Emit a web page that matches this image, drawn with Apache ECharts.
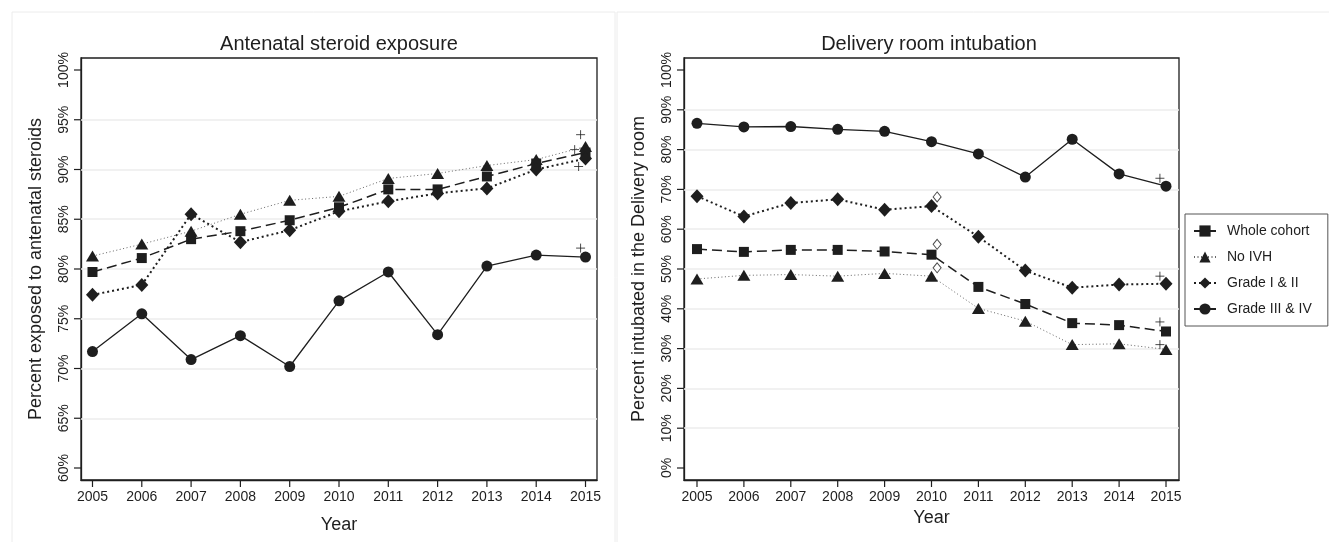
<!DOCTYPE html>
<html>
<head>
<meta charset="utf-8">
<script src="https://cdn.jsdelivr.net/npm/echarts@6/dist/echarts.min.js"></script>
<style>
html, body { margin: 0; padding: 0; background: #fff; }
#chart { width: 1329px; height: 542px; }
</style>
</head>
<body>
<div id="chart"></div>
<script>
const YEARS = [2005, 2006, 2007, 2008, 2009, 2010, 2011, 2012, 2013, 2014, 2015];

// Antenatal steroid exposure (%)
const ANS_WHOLE = [79.7, 81.1, 83.0, 83.8, 84.9, 86.2, 88.0, 88.0, 89.3, 90.6, 91.7];
const ANS_NOIVH = [81.3, 82.5, 83.8, 85.5, 86.9, 87.3, 89.1, 89.6, 90.4, 91.0, 92.3];
const ANS_G12 = [77.4, 78.4, 85.5, 82.7, 83.9, 85.8, 86.8, 87.6, 88.1, 90.0, 91.1];
const ANS_G34 = [71.7, 75.5, 70.9, 73.3, 70.2, 76.8, 79.7, 73.4, 80.3, 81.4, 81.2];
const ANS_PLUS = [[2014.9, 93.5], [2014.78, 92.0], [2014.86, 90.3], [2014.9, 82.1]];
const ANS_TICKS = [60, 65, 70, 75, 80, 85, 90, 95, 100];

// Delivery room intubation (%)
const DRI_WHOLE = [55.0, 54.3, 54.8, 54.8, 54.4, 53.6, 45.5, 41.2, 36.4, 35.9, 34.3];
const DRI_NOIVH = [47.5, 48.4, 48.6, 48.2, 48.9, 48.2, 40.1, 36.9, 31.0, 31.2, 29.8];
const DRI_G12 = [68.3, 63.2, 66.6, 67.5, 64.9, 65.8, 58.1, 49.6, 45.3, 46.1, 46.3];
const DRI_G34 = [86.6, 85.7, 85.8, 85.1, 84.6, 82.0, 78.9, 73.1, 82.6, 73.9, 70.8];
const DRI_PLUS = [[2014.87, 72.8], [2014.87, 48.2], [2014.87, 36.7], [2014.87, 31.0]];
const DRI_OPEN = [[2010.12, 68.1], [2010.12, 56.2], [2010.12, 50.3]];
const DRI_TICKS = [0, 10, 20, 30, 40, 50, 60, 70, 80, 90, 100];

// axis ranges (Stata-like padding around the ticks)
const ANS_X = [2004.767, 2015.233];
const ANS_Y = [58.794, 101.206];
const DRI_X = [2004.723, 2015.277];
const DRI_Y = [-3.015, 103.015];

const FONT = 'Liberation Sans, Arial, sans-serif';
const INK = '#1e1e1e';

const pairs = (vals) => vals.map((v, i) => [YEARS[i], v]);

const STYLES = {
    'Whole cohort': { symbol: 'rect', size: 10, line: { type: [10, 5], width: 1.5, color: INK } },
    'No IVH': { symbol: 'triangle', size: [13, 11], line: { type: [1, 2.5], width: 1, color: '#666' } },
    'Grade I & II': { symbol: 'diamond', size: [13, 14], line: { type: [2, 3], width: 2, color: INK } },
    'Grade III & IV': { symbol: 'circle', size: 11, line: { type: 'solid', width: 1.3, color: INK } }
};

const lineSeries = (name, vals, idx, ticks) => {
    const s = STYLES[name];
    const out = {
        name: name,
        type: 'line',
        xAxisIndex: idx,
        yAxisIndex: idx,
        data: pairs(vals),
        symbol: s.symbol,
        symbolSize: s.size,
        lineStyle: s.line,
        itemStyle: { color: INK },
        animation: false
    };
    if (ticks) {
        out.markLine = {
            silent: true,
            z: 1,
            symbol: ['none', 'none'],
            label: { show: false },
            lineStyle: { color: '#ededed', width: 1.5, type: 'solid' },
            data: ticks.slice(1, -1).map(v => ({ yAxis: v })),
            animation: false
        };
    }
    return out;
};

const plusSeries = (data, idx) => ({
    type: 'scatter',
    xAxisIndex: idx,
    yAxisIndex: idx,
    data: data,
    symbol: 'path://M0,5L10,5M5,0L5,10',
    symbolSize: 9,
    itemStyle: { color: 'none', borderColor: INK, borderWidth: 1 },
    animation: false
});

// outward tick marks, placed through the axes' own scales
const tickSeries = (idx, xr, yr, xTicks, yTicks) => ([
    {
        type: 'custom',
        xAxisIndex: idx,
        yAxisIndex: idx,
        silent: true,
        clip: false,
        z: 10,
        data: xTicks.map(v => [v, yr[0]]),
        renderItem: (params, api) => {
            const p = api.coord([api.value(0), api.value(1)]);
            return { type: 'line', shape: { x1: p[0], y1: p[1], x2: p[0], y2: p[1] + 7 }, style: { stroke: INK, lineWidth: 1.2 } };
        },
        animation: false
    },
    {
        type: 'custom',
        xAxisIndex: idx,
        yAxisIndex: idx,
        silent: true,
        clip: false,
        z: 10,
        data: yTicks.map(v => [xr[0], v]),
        renderItem: (params, api) => {
            const p = api.coord([api.value(0), api.value(1)]);
            return { type: 'line', shape: { x1: p[0] - 7, y1: p[1], x2: p[0], y2: p[1] }, style: { stroke: INK, lineWidth: 1.2 } };
        },
        animation: false
    }
]);

const xAxis = (idx, range, gap) => ({
    type: 'value',
    gridIndex: idx,
    min: range[0],
    max: range[1],
    name: 'Year',
    nameLocation: 'middle',
    nameGap: gap,
    nameTextStyle: { fontFamily: FONT, fontSize: 18, color: INK },
    axisLine: { show: true, onZero: false, lineStyle: { color: INK, width: 1.3 } },
    axisTick: { show: false },
    axisLabel: { customValues: YEARS, formatter: v => String(v), fontFamily: FONT, fontSize: 14, color: INK, margin: 10 },
    splitLine: { show: false }
});

const yAxis = (idx, range, ticks, name) => ({
    type: 'value',
    gridIndex: idx,
    min: range[0],
    max: range[1],
    name: name,
    nameLocation: 'middle',
    nameGap: 36,
    nameTextStyle: { fontFamily: FONT, fontSize: 18, color: INK },
    axisLine: { show: true, onZero: false, lineStyle: { color: INK, width: 1.3 } },
    axisTick: { show: false },
    axisLabel: { customValues: ticks, rotate: 90, formatter: v => v + '%', fontFamily: FONT, fontSize: 14, color: INK, margin: 10 },
    splitLine: { show: false }
});

const chart = echarts.init(document.getElementById('chart'));
chart.setOption({
    backgroundColor: '#fff',
    animation: false,
    title: [
        { text: 'Antenatal steroid exposure', left: 339, top: 34, textAlign: 'center', padding: 0,
          textStyle: { fontFamily: FONT, fontSize: 20, fontWeight: 'normal', color: INK } },
        { text: 'Delivery room intubation', left: 929, top: 34, textAlign: 'center', padding: 0,
          textStyle: { fontFamily: FONT, fontSize: 20, fontWeight: 'normal', color: INK } }
    ],
    graphic: [
        { type: 'rect', shape: { x: 12, y: 12, width: 603, height: 540 }, style: { fill: 'none', stroke: '#ececec', lineWidth: 1 }, silent: true },
        { type: 'rect', shape: { x: 617, y: 12, width: 720, height: 540 }, style: { fill: 'none', stroke: '#ececec', lineWidth: 1 }, silent: true }
    ],
    grid: [
        { left: 81, top: 58, width: 516, height: 422, show: true, borderColor: INK, borderWidth: 1.3 },
        { left: 684, top: 58, width: 495, height: 422, show: true, borderColor: INK, borderWidth: 1.3 }
    ],
    legend: {
        orient: 'vertical',
        left: 1185,
        top: 214,
        padding: [10, 16, 10, 8],
        itemGap: 12,
        itemWidth: 22,
        itemHeight: 14,
        borderColor: '#555',
        borderWidth: 1,
        data: ['Whole cohort', 'No IVH', 'Grade I & II', 'Grade III & IV'],
        textStyle: { fontFamily: FONT, fontSize: 14, color: INK, padding: [0, 0, 0, 6] }
    },
    xAxis: [
        xAxis(0, ANS_X, 36),
        xAxis(1, DRI_X, 27)
    ],
    yAxis: [
        yAxis(0, ANS_Y, ANS_TICKS, 'Percent exposed to antenatal steroids'),
        yAxis(1, DRI_Y, DRI_TICKS, 'Percent intubated in the Delivery room')
    ],
    series: [
        lineSeries('Whole cohort', ANS_WHOLE, 0, ANS_TICKS),
        lineSeries('No IVH', ANS_NOIVH, 0),
        lineSeries('Grade I & II', ANS_G12, 0),
        lineSeries('Grade III & IV', ANS_G34, 0),
        plusSeries(ANS_PLUS, 0),
        ...tickSeries(0, ANS_X, ANS_Y, YEARS, ANS_TICKS),
        lineSeries('Whole cohort', DRI_WHOLE, 1, DRI_TICKS),
        lineSeries('No IVH', DRI_NOIVH, 1),
        lineSeries('Grade I & II', DRI_G12, 1),
        lineSeries('Grade III & IV', DRI_G34, 1),
        plusSeries(DRI_PLUS, 1),
        ...tickSeries(1, DRI_X, DRI_Y, YEARS, DRI_TICKS),
        {
            type: 'scatter',
            xAxisIndex: 1,
            yAxisIndex: 1,
            data: DRI_OPEN,
            symbol: 'diamond',
            symbolSize: [8, 10],
            itemStyle: { color: '#fff', borderColor: INK, borderWidth: 1 },
            animation: false
        }
    ]
});
</script>
</body>
</html>
